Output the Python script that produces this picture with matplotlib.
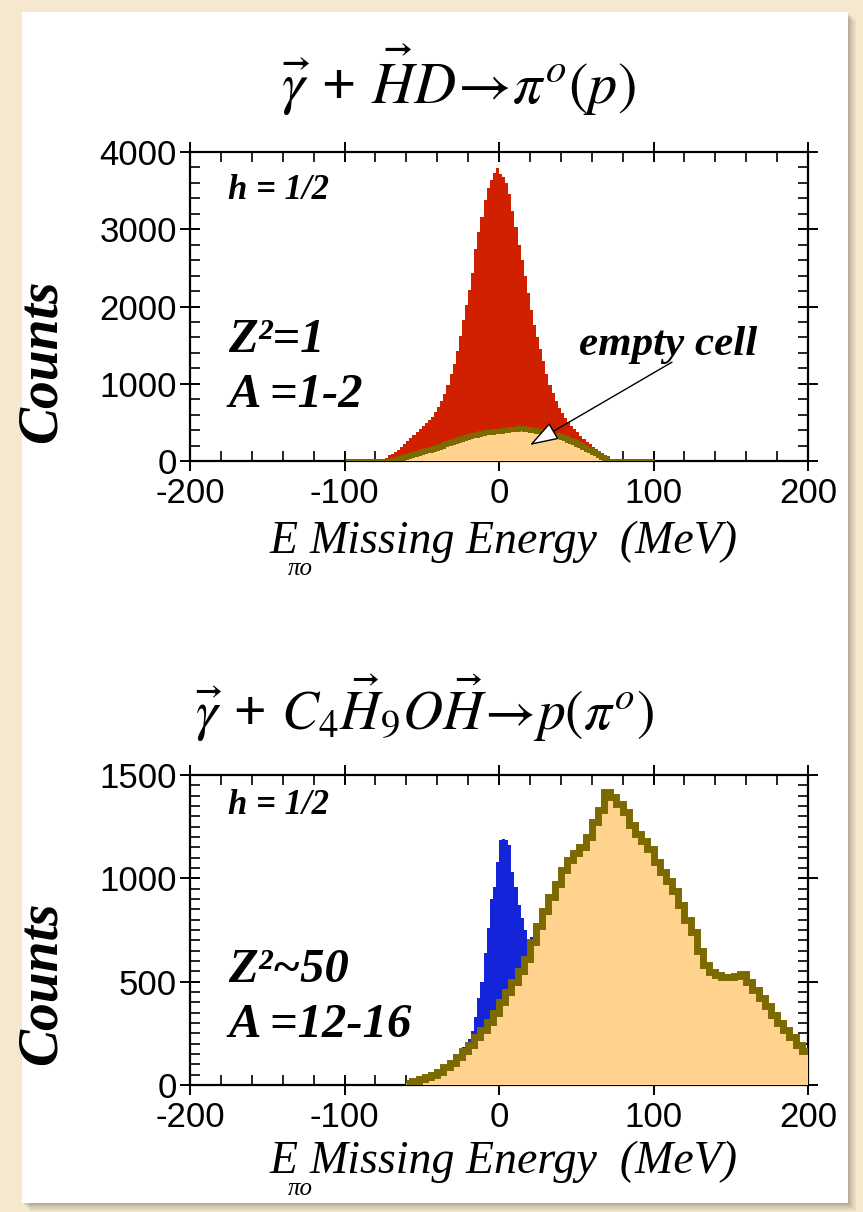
import numpy as np
import matplotlib
matplotlib.use("Agg")
import matplotlib.pyplot as plt
from matplotlib.patches import Rectangle
from matplotlib.ticker import MultipleLocator

plt.rcParams['mathtext.fontset'] = 'stix'
plt.rcParams['font.family'] = ['Liberation Sans', 'DejaVu Sans']
plt.rcParams['axes.unicode_minus'] = False

# ---------------- data ----------------
# Upper panel: HD target, 2 MeV bins
hd_full_edges = np.arange(-76, 74, 2)
hd_full_counts = [
    20, 45, 75, 95, 120, 145, 175, 215, 260, 300, 340, 380, 420, 455, 490, 530,
    570, 630, 700, 780, 870, 990, 1120, 1260, 1420, 1620, 1830, 2020, 2210, 2440,
    2750, 2960, 3160, 3380, 3540, 3640, 3730, 3790, 3720, 3680, 3600, 3450, 3230,
    3030, 2800, 2600, 2390, 2180, 1950, 1760, 1600, 1450, 1300, 1130, 990, 880,
    780, 690, 620, 560, 500, 450, 410, 370, 330, 290, 250, 215, 180, 150, 120,
    90, 60, 25,
]
hd_empty_range = (-100, 100)
hd_empty_edges = np.arange(-70, 72, 2)
hd_empty_counts = [
    8, 18, 30, 42, 55, 68, 80, 92, 105, 116, 126, 136, 146, 158, 170, 185, 200,
    215, 230, 245, 258, 270, 282, 295, 308, 320, 332, 343, 353, 362, 370, 376,
    381, 385, 389, 393, 398, 404, 410, 415, 420, 424, 422, 418, 412, 405, 398,
    390, 382, 372, 362, 352, 342, 332, 320, 308, 295, 278, 260, 240, 222, 202,
    180, 160, 140, 120, 100, 80, 58, 35,
]

# Lower panel: butanol target
but_full_edges = np.arange(-40, 28, 2)
but_full_counts = [
    60, 70, 80, 90, 100, 115, 130, 165, 185, 205, 225, 260, 330, 420, 500, 640,
    760, 900, 960, 1080, 1185, 1190, 1185, 1160, 1030, 960, 870, 810, 750, 700,
    715, 730, 760,
]
but_bg_edges = np.arange(-60, 204, 4)
but_bg_counts = [
    10, 20, 30, 40, 50, 65, 85, 105, 135, 165, 195, 230, 265, 305, 350, 400,
    450, 500, 550, 610, 690, 770, 840, 910, 975, 1040, 1090, 1125, 1150, 1200,
    1275, 1330, 1420, 1395, 1360, 1320, 1260, 1215, 1180, 1140, 1080, 1030, 985,
    940, 870, 800, 740, 650, 580, 545, 530, 525, 525, 528, 535, 500, 460, 420,
    380, 340, 300, 265, 230, 195, 165,
]

xticks = [-200, -100, 0, 100, 200]
top_yticks = [0, 1000, 2000, 3000, 4000]
bot_yticks = [0, 500, 1000, 1500]

RED = '#d02000'
BLUE = '#1424d8'
ORANGE = '#ffd28e'
OLIVE = '#7c6a00'

W, H = 863, 1212
fig = plt.figure(figsize=(W / 100, H / 100), dpi=100)
fig.patch.set_facecolor('#f6e8cf')


def fx(px):
    return px / W


def fy(py):
    return 1 - py / H


# white card with a soft shadow
for i, a in enumerate([0.05, 0.06, 0.07, 0.09]):
    off = 8 - 2 * i
    fig.add_artist(Rectangle((fx(22 + off), fy(1203 + off)), fx(826), 1191 / H,
                             transform=fig.transFigure, facecolor='black',
                             alpha=a, edgecolor='none', zorder=-12))
fig.add_artist(Rectangle((fx(22), fy(1203)), fx(826), 1191 / H,
                         transform=fig.transFigure, facecolor='white',
                         edgecolor='none', zorder=-10))

serif = 'Liberation Serif'


def style_axes(ax, ymin, ylim, yticks):
    ax.set_xlim(-200, 200)
    ax.set_ylim(*ylim)
    ax.set_xticks(xticks)
    ax.set_yticks(yticks)
    ax.xaxis.set_minor_locator(MultipleLocator(20))
    ax.yaxis.set_minor_locator(MultipleLocator(ymin))
    ax.tick_params(which='major', direction='inout', length=15, width=1.4,
                   top=True, right=True, labelsize=25)
    ax.tick_params(axis='y', which='major', pad=2)
    ax.tick_params(axis='x', which='major', pad=4)
    ax.tick_params(which='minor', direction='in', length=7, width=1.2,
                   top=True, right=True)
    for s in ax.spines.values():
        s.set_linewidth(1.6)
    ax.set_facecolor('none')


def arrow_to(ax, tail, tip):
    ax.annotate('', xy=tip, xytext=tail, zorder=6,
                arrowprops=dict(arrowstyle='-|>,head_length=0.9,head_width=0.3',
                                mutation_scale=20, facecolor='white',
                                edgecolor='black', lw=1.0,
                                shrinkA=0, shrinkB=0))


# ---------- upper panel ----------
ax1 = fig.add_axes([fx(190), fy(461), fx(808 - 190), (461 - 152) / H])
ax1.stairs(hd_full_counts, hd_full_edges, fill=True, color=RED, zorder=2)
lo = np.arange(hd_empty_range[0], hd_empty_edges[0], 2)
hi = np.arange(hd_empty_edges[-1] + 2, hd_empty_range[1] + 2, 2)
e_edges = np.concatenate([lo, hd_empty_edges, hi])
e_counts = np.concatenate([np.zeros(len(lo)), hd_empty_counts, np.zeros(len(hi))])
ax1.stairs(e_counts, e_edges, fill=True, color=ORANGE, zorder=3)
ax1.stairs(e_counts, e_edges, baseline=None, color=OLIVE, linewidth=3.6, zorder=4)
style_axes(ax1, 200, (0, 4000), top_yticks)

txt = dict(family=serif, style='italic', weight='bold', va='center', ha='left')
ax1.text(0.062, 0.877, 'h = 1/2', transform=ax1.transAxes, fontsize=25, **txt)
ax1.text(0.062, 0.392, 'Z\u00b2=1', transform=ax1.transAxes, fontsize=35, **txt)
ax1.text(0.062, 0.214, 'A =1-2', transform=ax1.transAxes, fontsize=35, **txt)
ax1.text(52, 1500, 'empty cell', fontsize=31, zorder=6, **txt)
arrow_to(ax1, (112, 1280), (20, 207))

# ---------- lower panel ----------
ax2 = fig.add_axes([fx(190), fy(1085), fx(808 - 190), (1085 - 775) / H])
ax2.stairs(but_full_counts, but_full_edges, fill=True, color=BLUE, zorder=2)
ax2.stairs(but_bg_counts, but_bg_edges, fill=True, color=ORANGE, zorder=3)
ax2.stairs(but_bg_counts, but_bg_edges, baseline=None, color=OLIVE,
           linewidth=5.0, zorder=4)
style_axes(ax2, 50, (0, 1500), bot_yticks)

ax2.text(0.062, 0.903, 'h = 1/2', transform=ax2.transAxes, fontsize=25, **txt)
ax2.text(0.062, 0.371, 'Z\u00b2~50', transform=ax2.transAxes, fontsize=35, **txt)
ax2.text(0.062, 0.194, 'A =12-16', transform=ax2.transAxes, fontsize=35, **txt)

# ---------- titles and axis labels ----------
fig.text(fx(458), fy(80), r'$\vec{\gamma}$ + $\vec{H}D\!\rightarrow\!\pi^{o}(p)$',
         fontsize=42, ha='center', va='center')
fig.text(fx(425), fy(708),
         r'$\vec{\gamma}$ + $C_{4}\vec{H}_{9}O\vec{H}\!\rightarrow\!p(\pi^{o})$',
         fontsize=40, ha='center', va='center')

for yc, py in [(361, 542), (983, 1162)]:
    fig.text(fx(42), fy(yc), 'Counts', rotation=90, family=serif,
             style='italic', weight='bold', fontsize=40, ha='center', va='center')
    fig.text(fx(270), fy(py), 'E', family=serif, style='italic',
             fontsize=33, ha='left', va='center')
    fig.text(fx(288), fy(py + 27), '\u03c0o', family=serif, style='italic',
             fontsize=18, ha='left', va='center')
    fig.text(fx(310), fy(py), 'Missing Energy  (MeV)', family=serif,
             style='italic', fontsize=33, ha='left', va='center')

fig.savefig('out.png', dpi=100, facecolor=fig.get_facecolor())
